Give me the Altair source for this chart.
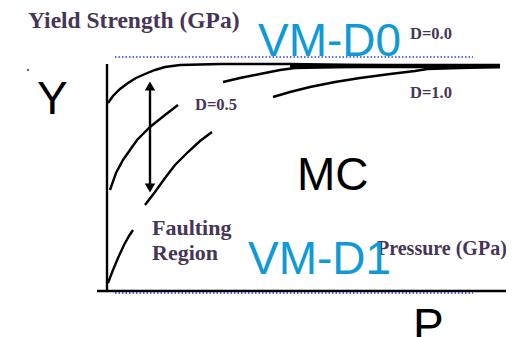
import altair as alt
import pandas as pd

# ---- data (page-pixel coordinate system of the sketch) ----
curve_d00_x = [108, 113, 120, 128, 136, 145, 155, 165, 180, 220, 290, 350, 500]
curve_d00_y = [103, 96, 89, 83, 78, 74, 70, 67, 65, 64, 64, 65, 66]
curve_d05top_x = [223, 240, 260, 280, 295, 340, 420, 500]
curve_d05top_y = [82, 78, 74, 70, 68, 67, 66, 66]
curve_d10_x = [273, 290, 310, 335, 360, 390, 415, 427, 460, 500]
curve_d10_y = [97, 92, 87, 82, 78, 74, 71, 69, 68, 67]
curve_b_x = [110, 116, 123, 137, 150, 165, 178]
curve_b_y = [190, 173, 160, 140, 127, 115, 105]
curve_c_x = [145, 155, 165, 175, 188, 200, 212]
curve_c_y = [205, 192, 178, 165, 152, 141, 132]
fault_x = [108, 113, 118, 124, 129, 133]
fault_y = [283, 270, 258, 245, 236, 230]
yaxis_x = [107, 107]
yaxis_y = [64, 291]
xaxis_x = [97, 510]
xaxis_y = [291, 291]
arrow_x = [150, 150]
arrow_y = [86, 188]
thick_x = [290, 500]
thick_y = [66, 66]
dotted_top_x = [115, 473]
dotted_top_y = [57, 57]
dotted_bot_x = [115, 473]
dotted_bot_y = [293, 293]

serif_labels = ["Yield Strength (GPa)", "D=0.0", "D=1.0", "D=0.5", "Faulting", "Region", "Pressure (GPa)"]
serif_x = [28, 410, 410, 195, 152, 152, 377]
serif_y = [28, 39, 98, 110, 235, 260, 255]
serif_size = [23.5, 16.5, 16.5, 16.5, 22, 22, 20]

sans_labels = ["VM-D0", "VM-D1", "Y", "MC", "P"]
sans_x = [258, 248, 37, 297, 413]
sans_y = [56, 274, 114, 190, 341]
sans_color = ["#0f9ad6", "#0f9ad6", "#000000", "#000000", "#000000"]

rows = []
for name, xs, ys in [("d00", curve_d00_x, curve_d00_y), ("d05", curve_d05top_x, curve_d05top_y),
                     ("d10", curve_d10_x, curve_d10_y), ("b", curve_b_x, curve_b_y),
                     ("c", curve_c_x, curve_c_y), ("f", fault_x, fault_y),
                     ("ya", yaxis_x, yaxis_y), ("xa", xaxis_x, xaxis_y), ("ar", arrow_x, arrow_y)]:
    for i, (a, b) in enumerate(zip(xs, ys)):
        rows.append({"s": name, "i": i, "x": a, "y": b})
lines_df = pd.DataFrame(rows)

thick_df = pd.DataFrame({"x": thick_x, "y": thick_y, "i": [0, 1]})
dot_df = pd.DataFrame({"x": dotted_top_x + dotted_bot_x, "y": dotted_top_y + dotted_bot_y,
                       "s": ["t", "t", "b", "b"], "i": [0, 1, 0, 1]})
heads_df = pd.DataFrame({"x": arrow_x, "y": arrow_y, "shape": ["triangle-up", "triangle-down"]})
dot_pt_df = pd.DataFrame({"x": [28], "y": [70]})
serif_df = pd.DataFrame({"t": serif_labels, "x": serif_x, "y": serif_y, "sz": serif_size})
sans_df = pd.DataFrame({"t": sans_labels, "x": sans_x, "y": sans_y, "c": sans_color})

X = alt.X("x:Q", scale=alt.Scale(domain=[8, 506], nice=False, zero=False), axis=None)
Y = alt.Y("y:Q", scale=alt.Scale(domain=[8, 329], nice=False, zero=False, reverse=True), axis=None)

lines = alt.Chart(lines_df).mark_line(color="black", strokeWidth=2.4).encode(
    x=X, y=Y, detail="s:N", order="i:Q")
thick = alt.Chart(thick_df).mark_line(color="black", strokeWidth=4.5).encode(x=X, y=Y, order="i:Q")
dotted = alt.Chart(dot_df).mark_line(color="#2a3cff", strokeWidth=1.5, strokeDash=[1.5, 2]).encode(
    x=X, y=Y, detail="s:N", order="i:Q")
heads = alt.Chart(heads_df).mark_point(filled=True, color="black", size=110, opacity=1).encode(
    x=X, y=Y, shape=alt.Shape("shape:N", scale=None))
dotpt = alt.Chart(dot_pt_df).mark_point(filled=True, color="#333333", size=6).encode(x=X, y=Y)
serif = alt.Chart(serif_df).mark_text(font="Liberation Serif", fontWeight="bold", align="left",
                                      baseline="alphabetic", color="#463656").encode(
    x=X, y=Y, text="t:N", size=alt.Size("sz:Q", scale=None))
sans = alt.Chart(sans_df).mark_text(font="Liberation Sans", fontSize=46, align="left",
                                    baseline="alphabetic").encode(
    x=X, y=Y, text="t:N", color=alt.Color("c:N", scale=None))

chart = alt.layer(dotted, lines, thick, heads, dotpt, serif, sans).properties(
    width=498, height=321, autosize=alt.AutoSizeParams(type="none"),
    padding={"left": 0, "top": 0, "right": 0, "bottom": 16}
).configure_view(stroke=None)

chart.save("out.html", embed_options={"renderer": "svg", "actions": False})
